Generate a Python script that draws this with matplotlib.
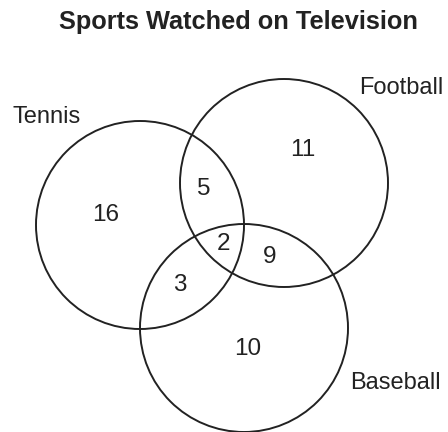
import matplotlib.pyplot as plt
from matplotlib.patches import Circle

# sets and region counts
sets = ["Tennis", "Football", "Baseball"]
centers = [(140, 225), (284, 183), (244, 328)]
radius = 104
label_pos = [(47, 117), (401, 88), (395, 383)]

regions = ["T", "F", "B", "TF", "TFB", "FB", "TB"]
counts = [16, 11, 10, 5, 2, 9, 3]
count_pos = [(106, 215), (303, 150), (248, 349), (204, 189), (223, 244), (270, 257), (180, 285)]

fig = plt.figure(figsize=(4.48, 4.32), dpi=100)
ax = fig.add_axes([0, 0, 1, 1])
ax.set_xlim(0, 448)
ax.set_ylim(432, 0)
ax.set_aspect("equal")
ax.axis("off")

plt.rcParams['font.family'] = ['Liberation Sans', 'DejaVu Sans']
ink = "#222222"

for c in centers:
    ax.add_patch(Circle(c, radius, fill=False, edgecolor=ink, linewidth=1.4))

for name, (x, y) in zip(sets, label_pos):
    ax.text(x, y, name, ha="center", va="center", fontsize=17, color=ink)

for n, (x, y) in zip(counts, count_pos):
    ax.text(x, y, str(n), ha="center", va="center", fontsize=17.5, color=ink)

ax.text(238, 22, "Sports Watched on Television", ha="center", va="center",
        fontsize=18.3, fontweight="bold", color=ink)

fig.savefig("out.png", dpi=100)
